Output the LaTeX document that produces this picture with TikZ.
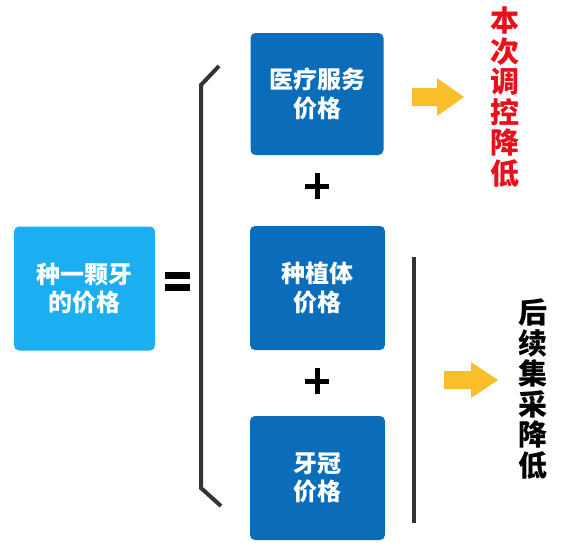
\documentclass[tikz,border=0pt]{standalone}
\usepackage{fontspec}
\setmainfont{Noto Sans CJK SC}
\definecolor{lightblue}{HTML}{1BAEF0}
\definecolor{darkblue}{HTML}{0B6DBA}
\definecolor{arrowyellow}{HTML}{F9BE2A}
\definecolor{redtext}{HTML}{E8101A}
\definecolor{linegray}{HTML}{333333}
\begin{document}
\begin{tikzpicture}[x=1pt,y=-1pt,
  box/.style={rounded corners=5pt, text=white, font=\fontsize{24}{28.5}\selectfont\bfseries, align=center, inner sep=0pt},
  vtext/.style={font=\fontsize{29}{30.5}\selectfont\bfseries, align=center, inner sep=0pt},
  bar/.style={line width=4pt, draw=linegray},
  sym/.style={line width=5pt, draw=black}]
\useasboundingbox[fill=white] (0,0) rectangle (573,550);
% boxes
\node[box, fill=lightblue, minimum width=141pt, minimum height=124pt] (total) at (84.5,288.5) {种一颗牙\\的价格};
\node[box, fill=darkblue, minimum width=133pt, minimum height=122pt] (service) at (317,94) {医疗服务\\价格};
\node[box, fill=darkblue, minimum width=135pt, minimum height=124pt] (implant) at (317.5,288) {种植体\\价格};
\node[box, fill=darkblue, minimum width=135pt, minimum height=124pt] (crown) at (317.5,478) {牙冠\\价格};
% equals sign
\coordinate (eqc) at (177.5,281.5);
\fill[black] ([xshift=-12.5pt,yshift=-9.5pt]eqc) rectangle ([xshift=12.5pt,yshift=-2.5pt]eqc);
\fill[black] ([xshift=-12.5pt,yshift=2.5pt]eqc) rectangle ([xshift=12.5pt,yshift=9.5pt]eqc);
% plus signs
\coordinate (p1) at (317,186);
\coordinate (p2) at (317,381);
\foreach \p in {p1,p2}{
  \draw[sym] ([xshift=-12pt]\p) -- ([xshift=12pt]\p);
  \draw[sym] ([yshift=-13pt]\p) -- ([yshift=13pt]\p);
}
% bracket
\coordinate (b1) at (219,66);
\coordinate (b2) at (201,85);
\coordinate (b3) at (201,488);
\coordinate (b4) at (221,506);
\draw[bar, line join=miter] (b1) -- (b2) -- (b3) -- (b4);
% right vertical line
\coordinate (r1) at (414,257);
\coordinate (r2) at (414,523);
\draw[bar] (r1) -- (r2);
% arrows
\coordinate (a1) at (412,97);
\fill[arrowyellow] (a1) ++(0,-9) -- ++(25,0) -- ++(0,-10) -- ++(27,19) -- ++(-27,19) -- ++(0,-10) -- ++(-25,0) -- cycle;
\coordinate (a2) at (444,380);
\fill[arrowyellow] (a2) ++(0,-9) -- ++(27,0) -- ++(0,-9) -- ++(27,18) -- ++(-27,18) -- ++(0,-9) -- ++(-27,0) -- cycle;
% vertical texts
\node[vtext, text=redtext] (redlbl) at (505,97) {本\\次\\调\\控\\降\\低};
\node[vtext, text=black] (blacklbl) at (533,389) {后\\续\\集\\采\\降\\低};
\end{tikzpicture}
\end{document}
